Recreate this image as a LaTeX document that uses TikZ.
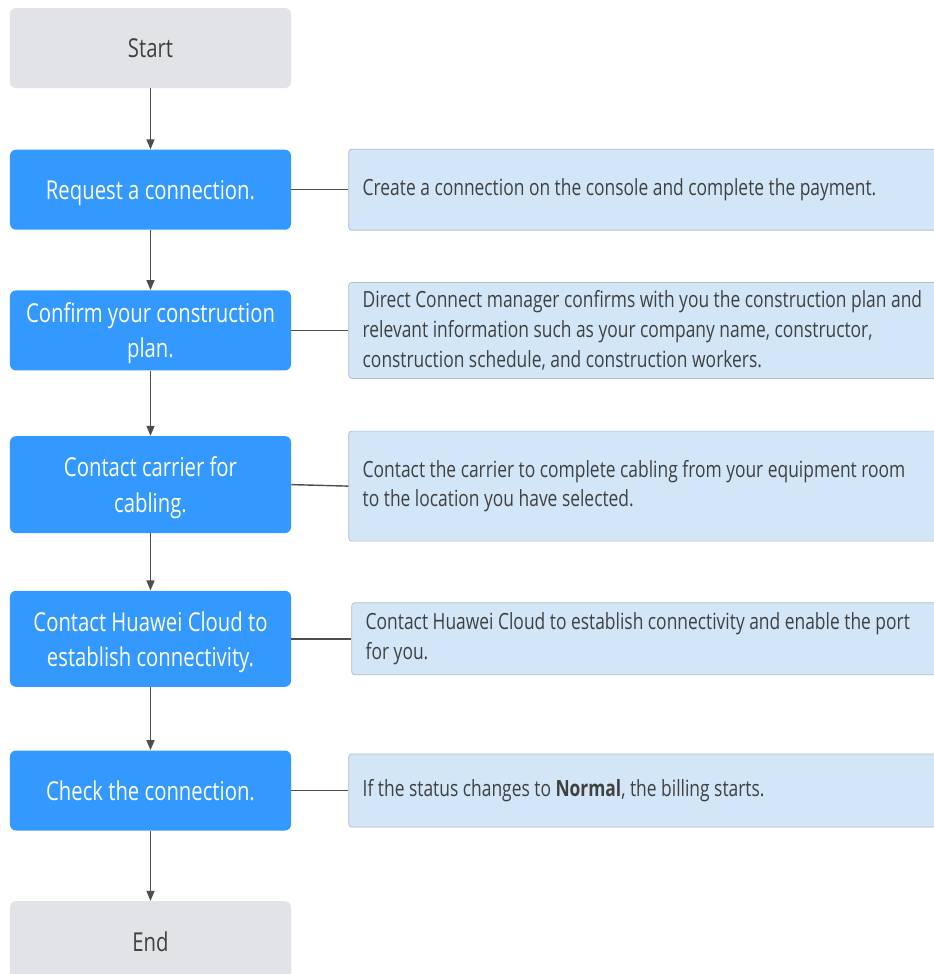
\documentclass[tikz,border=0pt]{standalone}
\usepackage{fontspec}
\setmainfont{Open Sans}[FakeStretch=0.78]
\usetikzlibrary{positioning, arrows.meta}

\definecolor{stepblue}{RGB}{51,153,255}
\definecolor{termgray}{RGB}{225,227,230}
\definecolor{noteblue}{RGB}{210,230,248}
\definecolor{notegray}{RGB}{178,188,198}
\definecolor{textgray}{RGB}{64,64,64}
\definecolor{linegray}{RGB}{77,77,77}

\begin{document}
\begin{tikzpicture}[
  font=\fontsize{14.8}{20}\selectfont,
  term/.style={fill=termgray, rounded corners=0.12cm, minimum width=5.62cm, minimum height=1.6cm, text=textgray, align=center, text depth=0pt},
  stepbox/.style={fill=stepblue, rounded corners=0.12cm, minimum width=5.62cm, minimum height=1.6cm, text=white, align=center, text depth=0pt},
  note/.style={draw=notegray, fill=noteblue, rounded corners=0.06cm, text width=12cm, inner xsep=0.28cm, align=left, text=textgray, font=\fontsize{12.7}{17}\selectfont, execute at begin node={\spaceskip=0pt\xspaceskip=0pt}},
  flow/.style={draw=linegray, line width=0.8pt, -{Triangle[length=0.2cm, width=0.16cm]}},
  link/.style={draw=linegray, line width=0.8pt}
]
\useasboundingbox (0,0) rectangle (18.68,-19.48);

% left column
\node[term] (start) at (3.01,-0.96) {Start};
\node[stepbox, below=1.22cm of start] (request) {Request a connection.};
\node[stepbox, below=1.2cm of request] (confirm) {Confirm your construction\\plan.};
\node[stepbox, below=1.3cm of confirm, minimum height=1.94cm] (carrier) {Contact carrier for\\cabling.};
\node[stepbox, below=1.14cm of carrier, minimum height=1.92cm] (huawei) {Contact Huawei Cloud to\\establish connectivity.};
\node[stepbox, below=1.26cm of huawei] (check) {Check the connection.};
\node[term, below=1.4cm of check] (end) {End};

% notes
\node[note, right=1.14cm of request, minimum height=1.62cm] (n1) {Create a connection on the console and complete the payment.};
\node[note, right=1.14cm of confirm, minimum height=1.92cm] (n2) {Direct Connect manager confirms with you the construction plan and\\relevant information such as your company name, constructor,\\construction schedule, and construction workers.};
\node[note, right=1.14cm of carrier, yshift=-0.03cm, minimum height=2.2cm] (n3) {Contact the carrier to complete cabling from your equipment room\\to the location you have selected.};
\node[note, right=1.2cm of huawei, minimum height=1.44cm] (n4) {Contact Huawei Cloud to establish connectivity and enable the port\\for you.};
\node[note, right=1.14cm of check, minimum height=1.46cm] (n5) {If the status changes to \textbf{Normal}, the billing starts.};

% flow
\draw[flow] (start) -- (request);
\draw[flow] (request) -- (confirm);
\draw[flow] (confirm) -- (carrier);
\draw[flow] (carrier) -- (huawei);
\draw[flow] (huawei) -- (check);
\draw[flow] (check) -- (end);

% links to notes
\draw[link] (request.east) -- (n1.west);
\draw[link] (confirm.east) -- (n2.west);
\draw[link] (carrier.east) -- (n3.west);
\draw[link] (huawei.east) -- (n4.west);
\draw[link] (check.east) -- (n5.west);

\end{tikzpicture}
\end{document}
